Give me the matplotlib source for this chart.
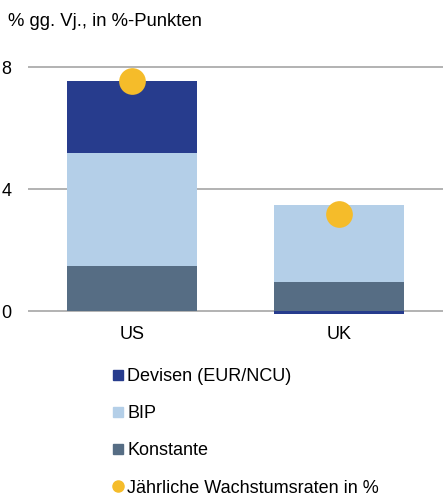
import matplotlib
matplotlib.use("Agg")
import matplotlib.pyplot as plt
from matplotlib.lines import Line2D
import numpy as np

plt.rcParams['font.family'] = ['Liberation Sans', 'DejaVu Sans']

categories = ["US", "UK"]
konstante = [1.47, 0.94]
bip = [3.70, 2.53]
devisen = [2.39, -0.08]
wachstum = [7.55, 3.20]
yticks = [0, 4, 8]

c_dev = "#273C8D"
c_bip = "#B4CFE8"
c_kon = "#566D84"
c_dot = "#F5BC2A"

fig = plt.figure(figsize=(4.43, 4.97), dpi=100)
ax = fig.add_axes([0.0632, 0.3557, 0.9368, 0.5274])

x = np.arange(len(categories))
w = 0.625
kon = np.array(konstante)
bp = np.array(bip)
dv = np.array(devisen)
pos_base = kon + bp
dev_bottom = np.where(dv >= 0, pos_base, 0)

ax.bar(x, kon, w, color=c_kon, zorder=2)
ax.bar(x, bp, w, bottom=kon, color=c_bip, zorder=2)
ax.bar(x, dv, w, bottom=dev_bottom, color=c_dev, zorder=2)
ax.scatter(x, wachstum, s=370, color=c_dot, zorder=3, linewidths=0)

ax.set_xlim(-0.5, 1.5)
ax.set_ylim(-0.3, 8.3)
ax.set_yticks(yticks)
ax.set_yticklabels([str(t) for t in yticks])
ax.set_xticks(x)
ax.set_xticklabels(categories)
for s in ax.spines.values():
    s.set_visible(False)
ax.tick_params(axis='both', length=0, labelsize=13, colors='black')
ax.tick_params(axis='y', pad=12)
ax.tick_params(axis='x', pad=4)
for t in yticks:
    ax.axhline(t, color="#A6A6A6", lw=1.2, zorder=1)

fig.text(8/443, 1 - 21/497, "% gg. Vj., in %-Punkten", fontsize=13.3, va='center', ha='left')

handles = [
    Line2D([], [], marker='s', linestyle='none', markersize=7.2, color=c_dev),
    Line2D([], [], marker='s', linestyle='none', markersize=7.2, color=c_bip),
    Line2D([], [], marker='s', linestyle='none', markersize=7.2, color=c_kon),
    Line2D([], [], marker='o', linestyle='none', markersize=8, color=c_dot),
]
labels = ["Devisen (EUR/NCU)", "BIP", "Konstante", "Jährliche Wachstumsraten in %"]
fig.legend(handles, labels, loc='upper left', bbox_to_anchor=(110.8/443, 1 - 368/497),
           frameon=False, fontsize=13, labelspacing=1.12, handlelength=0.8,
           handletextpad=0.1, borderpad=0, borderaxespad=0)

fig.savefig("out.png", dpi=100)
